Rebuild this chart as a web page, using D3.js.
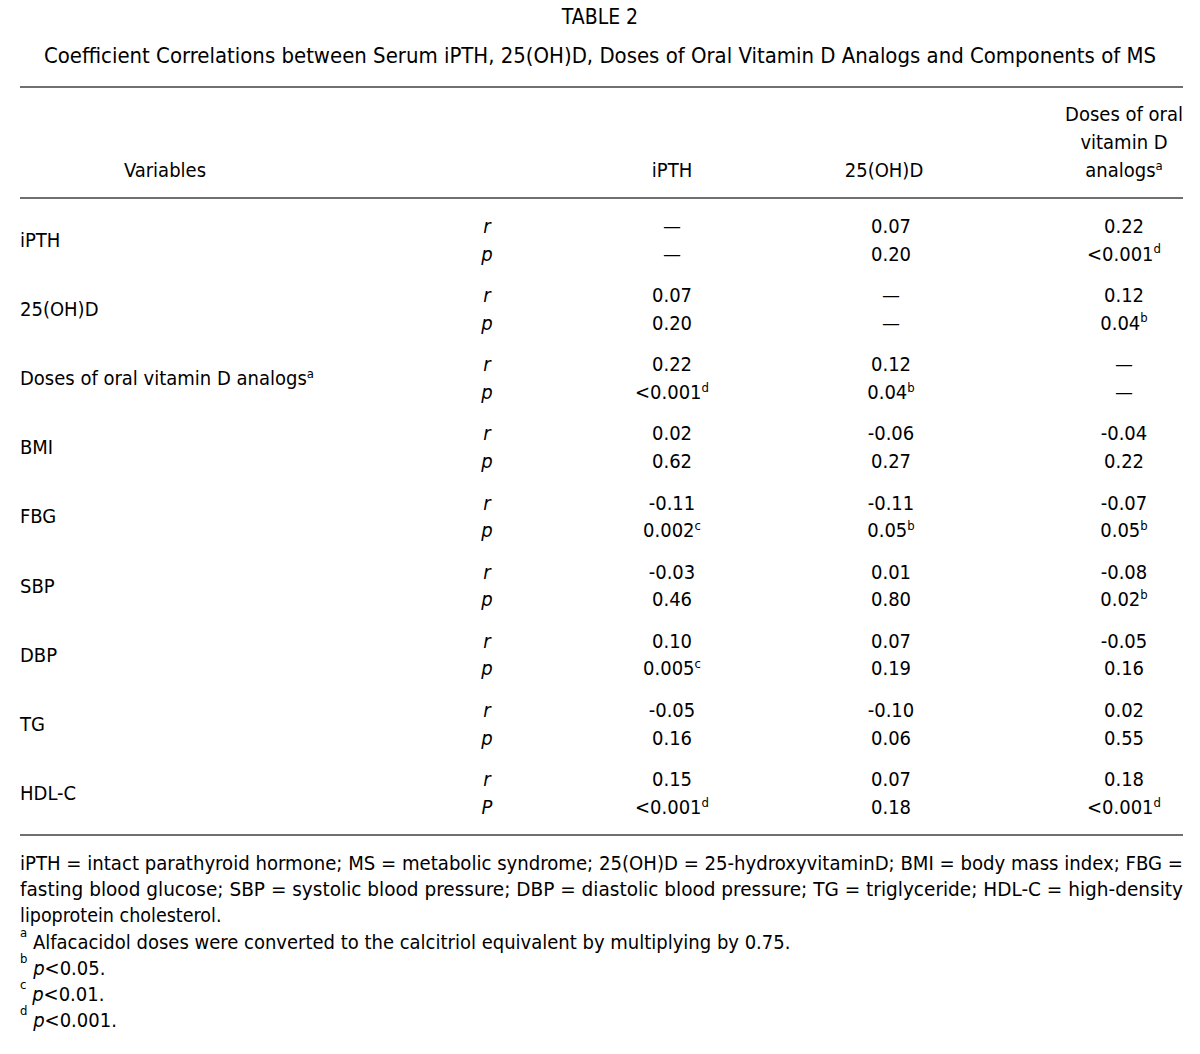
<!DOCTYPE html>
<html>
<head>
<meta charset="utf-8">
<script src="https://cdn.jsdelivr.net/npm/d3@7"></script>
<style>
  html, body { margin: 0; padding: 0; background: #fff; }
  svg text { font-family: "Liberation Sans Narrow", "DejaVu Sans Condensed", "Arial Narrow", "DejaVu Sans", sans-serif; fill: #000; }
</style>
</head>
<body>
<svg id="chart" width="1200" height="1054"></svg>
<script>
// ---- data ----
const tableNumber = "TABLE 2";
const tableTitle = "Coefficient Correlations between Serum iPTH, 25(OH)D, Doses of Oral Vitamin D Analogs and Components of MS";
const headerVariables = "Variables";
const columns = ["iPTH", "25(OH)D", "Doses of oral vitamin D analogs"];
const columnHeaderLines = [["iPTH"], ["25(OH)D"], ["Doses of oral", "vitamin D", "analogs"]];
const columnHeaderSup = ["", "", "a"];
const variables = ["iPTH", "25(OH)D", "Doses of oral vitamin D analogs", "BMI", "FBG", "SBP", "DBP", "TG", "HDL-C"];
const variableSup = ["", "", "a", "", "", "", "", "", ""];
const statLabels = [["r", "p"], ["r", "p"], ["r", "p"], ["r", "p"], ["r", "p"], ["r", "p"], ["r", "p"], ["r", "p"], ["r", "P"]];
// r values per column (null = dash)
const rIPTH   = [null, 0.07, 0.22, 0.02, -0.11, -0.03, 0.10, -0.05, 0.15];
const r25OHD  = [0.07, null, 0.12, -0.06, -0.11, 0.01, 0.07, -0.10, 0.07];
const rDoses  = [0.22, 0.12, null, -0.04, -0.07, -0.08, -0.05, 0.02, 0.18];
// p values as printed, with footnote marks
const pIPTH   = ["—", "0.20", "<0.001", "0.62", "0.002", "0.46", "0.005", "0.16", "<0.001"];
const pIPTHs  = ["", "", "d", "", "c", "", "c", "", "d"];
const p25OHD  = ["0.20", "—", "0.04", "0.27", "0.05", "0.80", "0.19", "0.06", "0.18"];
const p25OHDs = ["", "", "b", "", "b", "", "", "", ""];
const pDoses  = ["<0.001", "0.04", "—", "0.22", "0.05", "0.02", "0.16", "0.55", "<0.001"];
const pDosesS = ["d", "b", "", "", "b", "b", "", "", "d"];
const footnoteAbbrev = [
  "iPTH = intact parathyroid hormone; MS = metabolic syndrome; 25(OH)D = 25-hydroxyvitaminD; BMI = body mass index; FBG =",
  "fasting blood glucose; SBP = systolic blood pressure; DBP = diastolic blood pressure; TG = triglyceride; HDL-C = high-density",
  "lipoprotein cholesterol."
];
const footnoteMarks = ["a", "b", "c", "d"];
const footnoteTexts = ["Alfacacidol doses were converted to the calcitriol equivalent by multiplying by 0.75.", "<0.05.", "<0.01.", "<0.001."];
const footnoteItalicLead = ["", "p", "p", "p"];

// ---- drawing ----
const svg = d3.select("#chart");
const FS = 20;
const ruleColor = "#707070";

const rValues = [rIPTH, r25OHD, rDoses];
const pValues = [pIPTH, p25OHD, pDoses];
const pSups = [pIPTHs, p25OHDs, pDosesS];

const xCol = d3.scaleOrdinal().domain(columns).range([672, 891, 1124]);
const xHead = d3.scaleOrdinal().domain(columns).range([672, 884, 1124]);
const yRow = d3.scalePoint().domain(variables).range([226, 226 + 8 * 69.15]);
const pOffset = 27.5;

// title
svg.append("text").attr("x", 600).attr("y", 17).attr("dy", "0.35em")
  .attr("text-anchor", "middle").style("font-size", "21px").text(tableNumber);
svg.append("text").attr("x", 600).attr("y", 56).attr("dy", "0.35em")
  .attr("text-anchor", "middle").style("font-size", "21px")
  .attr("textLength", 1112).attr("lengthAdjust", "spacingAndGlyphs").text(tableTitle);

// rules
[87, 198, 835].forEach(y => {
  svg.append("line").attr("x1", 20).attr("x2", 1183).attr("y1", y).attr("y2", y)
    .attr("stroke", ruleColor).attr("stroke-width", 2);
});

// header
svg.append("text").attr("x", 165).attr("y", 170).attr("dy", "0.35em")
  .attr("text-anchor", "middle").style("font-size", FS + "px").text(headerVariables);
columns.forEach((c, i) => {
  const lines = columnHeaderLines[i];
  lines.forEach((ln, j) => {
    const t = svg.append("text").attr("x", xHead(c)).attr("y", 170 - (lines.length - 1 - j) * 28)
      .attr("dy", "0.35em").attr("text-anchor", "middle").style("font-size", FS + "px");
    t.append("tspan").text(ln);
    if (j === lines.length - 1 && columnHeaderSup[i]) {
      t.append("tspan").attr("dy", "-0.55em").style("font-size", "13px").text(columnHeaderSup[i]);
    }
  });
});

// body rows
const rowG = svg.selectAll("g.row").data(variables).join("g").attr("class", "row")
  .attr("transform", d => `translate(0,${yRow(d)})`);

rowG.each(function (v, i) {
  const g = d3.select(this);
  const lab = g.append("text").attr("x", 20).attr("y", pOffset / 2).attr("dy", "0.35em")
    .style("font-size", FS + "px");
  lab.append("tspan").text(v);
  if (variableSup[i]) lab.append("tspan").attr("dy", "-0.55em").style("font-size", "13px").text(variableSup[i]);

  statLabels[i].forEach((s, k) => {
    g.append("text").attr("x", 487).attr("y", k * pOffset).attr("dy", "0.35em")
      .attr("text-anchor", "middle").style("font-size", FS + "px").style("font-style", "italic").text(s);
  });

  columns.forEach((c, ci) => {
    const rv = rValues[ci][i];
    g.append("text").attr("x", xCol(c)).attr("y", 0).attr("dy", "0.35em")
      .attr("text-anchor", "middle").style("font-size", FS + "px")
      .text(rv === null ? "—" : d3.format(".2f")(rv).replace("−", "-"));
    const pt = g.append("text").attr("x", xCol(c)).attr("y", pOffset).attr("dy", "0.35em")
      .attr("text-anchor", "middle").style("font-size", FS + "px");
    pt.append("tspan").text(pValues[ci][i]);
    const sup = pSups[ci][i];
    if (sup) pt.append("tspan").attr("dy", "-0.55em").style("font-size", "13px").text(sup);
  });
});

// footnotes
const fy0 = 863, fstep = 25.85;
footnoteAbbrev.forEach((ln, i) => {
  const t = svg.append("text").attr("x", 20).attr("y", fy0 + i * fstep).attr("dy", "0.35em")
    .style("font-size", "19.5px").text(ln);
  if (i < 2) t.attr("textLength", 1163).attr("lengthAdjust", "spacingAndGlyphs");
});
footnoteMarks.forEach((m, i) => {
  const t = svg.append("text").attr("x", 20).attr("y", fy0 + (3 + i) * fstep).attr("dy", "0.35em")
    .style("font-size", "20px");
  t.append("tspan").attr("dy", "-0.25em").style("font-size", "13px").text(m);
  t.append("tspan").attr("dy", "0.6em").text("\u00a0");
  if (footnoteItalicLead[i]) t.append("tspan").style("font-style", "italic").text(footnoteItalicLead[i]);
  t.append("tspan").text(footnoteTexts[i]);
});
</script>
</body>
</html>
